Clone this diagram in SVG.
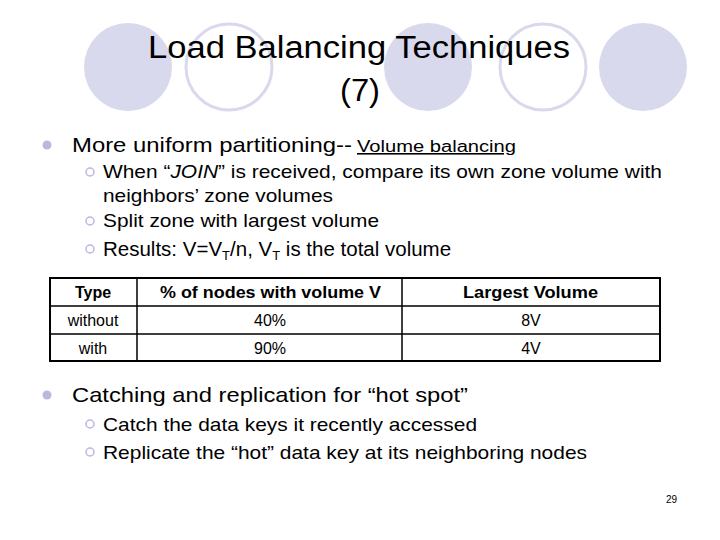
<svg xmlns="http://www.w3.org/2000/svg" width="720" height="540" viewBox="0 0 720 540">
<style>
text{font-family:"Liberation Sans",Arial,sans-serif;fill:#000}
.f{fill:#d9d9ee}
.o{fill:none;stroke:#d9d9ee;stroke-width:3}
.b1{font-size:21px}
.b2{font-size:19px}
.t{font-size:16px;text-anchor:middle}
.h{font-weight:bold}
.bul{fill:#b8b8e0}
.sb{fill:none;stroke:#b8b8e0;stroke-width:1.5}
</style>
<rect width="720" height="540" fill="#fff"/>
<g id="deco">
<circle class="f" cx="128" cy="67" r="44"/>
<circle class="o" cx="229" cy="67" r="43"/>
<circle class="f" cx="428" cy="67" r="44"/>
<circle class="o" cx="543" cy="67" r="43"/>
<circle class="f" cx="643" cy="67" r="44"/>
</g>
<g id="title">
<text x="148" y="58" font-size="31" textLength="422" lengthAdjust="spacingAndGlyphs">Load Balancing Techniques</text>
<text x="340" y="101" font-size="31" textLength="40" lengthAdjust="spacingAndGlyphs">(7)</text>
</g>
<g id="bullets1">
<circle class="bul" cx="47" cy="145" r="4.5"/>
<text class="b1" x="72" y="152" textLength="280" lengthAdjust="spacingAndGlyphs">More uniform partitioning--</text>
<text x="357" y="152" font-size="16" text-decoration="underline" textLength="159" lengthAdjust="spacingAndGlyphs">Volume balancing</text>
<circle class="sb" cx="90" cy="172" r="4"/>
<text class="b2" x="103" y="178" textLength="559" lengthAdjust="spacingAndGlyphs">When “<tspan font-style="italic">JOIN</tspan>” is received, compare its own zone volume with</text>
<text class="b2" x="103" y="202" textLength="230" lengthAdjust="spacingAndGlyphs">neighbors’ zone volumes</text>
<circle class="sb" cx="90" cy="221" r="4"/>
<text class="b2" x="103" y="227" textLength="276" lengthAdjust="spacingAndGlyphs">Split zone with largest volume</text>
<circle class="sb" cx="90" cy="249" r="4"/>
<text x="103" y="256" font-size="20.5">Results: V=V<tspan font-size="13" dy="4">T</tspan><tspan dy="-4">/n, V</tspan><tspan font-size="13" dy="4">T</tspan><tspan dy="-4"> is the total volume</tspan></text>
</g>
<g id="table">
<rect x="50" y="278" width="610" height="83" fill="none" stroke="#000" stroke-width="2"/>
<path d="M50 306H660M50 334H660M137 278V361M402 278V361" stroke="#000" stroke-width="1.5" fill="none"/>
<text class="t h" x="93" y="298">Type</text>
<text class="h" x="160" y="298" font-size="17" textLength="221" lengthAdjust="spacingAndGlyphs">% of nodes with volume V</text>
<text class="h" x="463" y="298" font-size="17" textLength="135" lengthAdjust="spacingAndGlyphs">Largest Volume</text>
<text class="t" x="93" y="326">without</text>
<text class="t" x="270" y="326">40%</text>
<text class="t" x="531" y="326">8V</text>
<text class="t" x="93" y="354">with</text>
<text class="t" x="270" y="354">90%</text>
<text class="t" x="531" y="354">4V</text>
</g>
<g id="bullets2">
<circle class="bul" cx="47" cy="395" r="4.5"/>
<text class="b1" x="72" y="402" textLength="396" lengthAdjust="spacingAndGlyphs">Catching and replication for “hot spot”</text>
<circle class="sb" cx="90" cy="424" r="4"/>
<text class="b2" x="103" y="431" textLength="374" lengthAdjust="spacingAndGlyphs">Catch the data keys it recently accessed</text>
<circle class="sb" cx="90" cy="452" r="4"/>
<text class="b2" x="103" y="459" textLength="484" lengthAdjust="spacingAndGlyphs">Replicate the “hot” data key at its neighboring nodes</text>
</g>
<text x="677" y="503" font-size="10" text-anchor="end">29</text>
</svg>
